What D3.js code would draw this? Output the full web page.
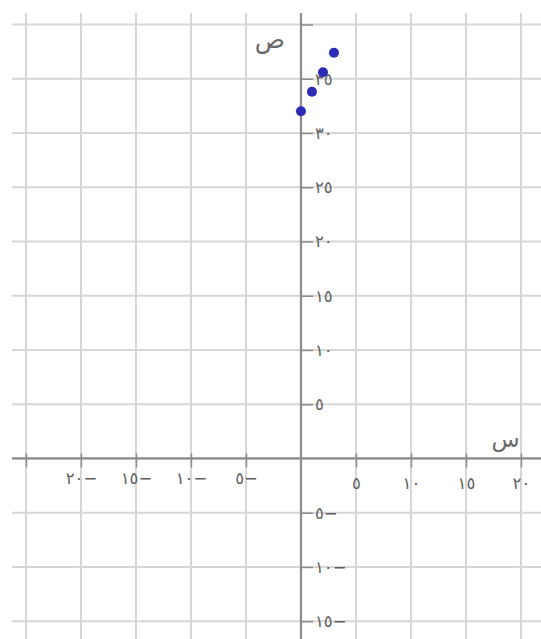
<!DOCTYPE html>
<html>
<head>
<meta charset="utf-8">
<script src="https://cdn.jsdelivr.net/npm/d3@7/dist/d3.min.js"></script>
<style>
  html, body { margin: 0; padding: 0; background: #fff; }
  svg { display: block; }
  text { font-family: "DejaVu Sans", sans-serif; }
</style>
</head>
<body>
<svg id="chart" width="541" height="639"></svg>
<script>
// Celsius (س) against Fahrenheit (ص)
const xValues = [0, 1, 2, 3];
const yValues = [32, 33.8, 35.6, 37.4];

const xTicks = [-25, -20, -15, -10, -5, 5, 10, 15, 20];
const yTicks = [-15, -10, -5, 5, 10, 15, 20, 25, 30, 35, 40];
const xLabelled = [-20, -15, -10, -5, 5, 10, 15, 20];
const yLabelled = [-15, -10, -5, 5, 10, 15, 20, 25, 30, 35];
const xTitle = "س";
const yTitle = "ص";

const W = 541, H = 639;
const svg = d3.select("#chart");

// pixel frame of the grid
const gridLeft = 12, gridTop = 13;
const x = d3.scaleLinear().domain([-27.36, 21.82]).range([0, W]);
const y = d3.scaleLinear().domain([42.26, -16.64]).range([0, H]);

const digits = "٠١٢٣٤٥٦٧٨٩";
const toArabic = n => String(n).replace(/[0-9]/g, c => digits[+c]);
// RLM keeps the minus on the right of the Arabic-Indic digits
const fmt = d => (d < 0 ? "\u200F\u2212" : "") + toArabic(Math.abs(d));

const labelStyle = sel => sel
  .attr("font-size", 16.5).attr("fill", "#5e5e5e")
  .attr("letter-spacing", 2)
  .attr("font-family", "DejaVu Sans");

// grid
const grid = svg.append("g").attr("stroke", "#d6d6d6").attr("stroke-width", 2);
grid.selectAll("line.v").data(d3.range(-25, 21, 5)).join("line").attr("class", "v")
  .attr("x1", d => x(d)).attr("x2", d => x(d))
  .attr("y1", gridTop).attr("y2", H);
grid.selectAll("line.h").data(d3.range(-15, 41, 5)).join("line").attr("class", "h")
  .attr("y1", d => y(d)).attr("y2", d => y(d))
  .attr("x1", gridLeft).attr("x2", W);

// x axis
const xAxis = svg.append("g")
  .attr("transform", `translate(0,${y(0)})`)
  .call(d3.axisBottom(x).tickValues(xTicks).tickSize(9)
    .tickFormat(d => xLabelled.includes(d) ? fmt(d) : ""));
xAxis.select(".domain").remove();
xAxis.append("line").attr("x1", gridLeft).attr("x2", W)
  .attr("stroke", "#8c8c8c").attr("stroke-width", 2.2);
xAxis.selectAll(".tick line").attr("stroke", "#8c8c8c").attr("stroke-width", 1.5).attr("y1", -5);
xAxis.selectAll(".tick text")
  .call(labelStyle)
  .attr("dy", null)
  .attr("y", d => d < 0 ? 25.5 : 31);

// y axis
const yAxis = svg.append("g")
  .attr("transform", `translate(${x(0)},0)`)
  .call(d3.axisRight(y).tickValues(yTicks).tickSize(12).tickPadding(2)
    .tickFormat(d => yLabelled.includes(d) ? fmt(d) : ""));
yAxis.select(".domain").remove();
yAxis.append("line").attr("y1", gridTop).attr("y2", H)
  .attr("stroke", "#8c8c8c").attr("stroke-width", 2.2);
yAxis.selectAll(".tick line").attr("stroke", "#8c8c8c").attr("stroke-width", 1.5);
yAxis.selectAll(".tick text").call(labelStyle);

// axis titles
svg.append("text").attr("x", x(0) - 31).attr("y", y(37.8))
  .attr("text-anchor", "middle").attr("font-size", 25).attr("fill", "#6a6a6a")
  .text(yTitle);
svg.append("text").attr("x", x(18.6)).attr("y", y(1.1))
  .attr("text-anchor", "middle").attr("font-size", 23).attr("fill", "#6a6a6a")
  .text(xTitle);

// points
svg.append("g").selectAll("circle").data(xValues).join("circle")
  .attr("cx", d => x(d))
  .attr("cy", (d, i) => y(yValues[i]))
  .attr("r", 5)
  .attr("fill", "#2b2bb8");
</script>
</body>
</html>
